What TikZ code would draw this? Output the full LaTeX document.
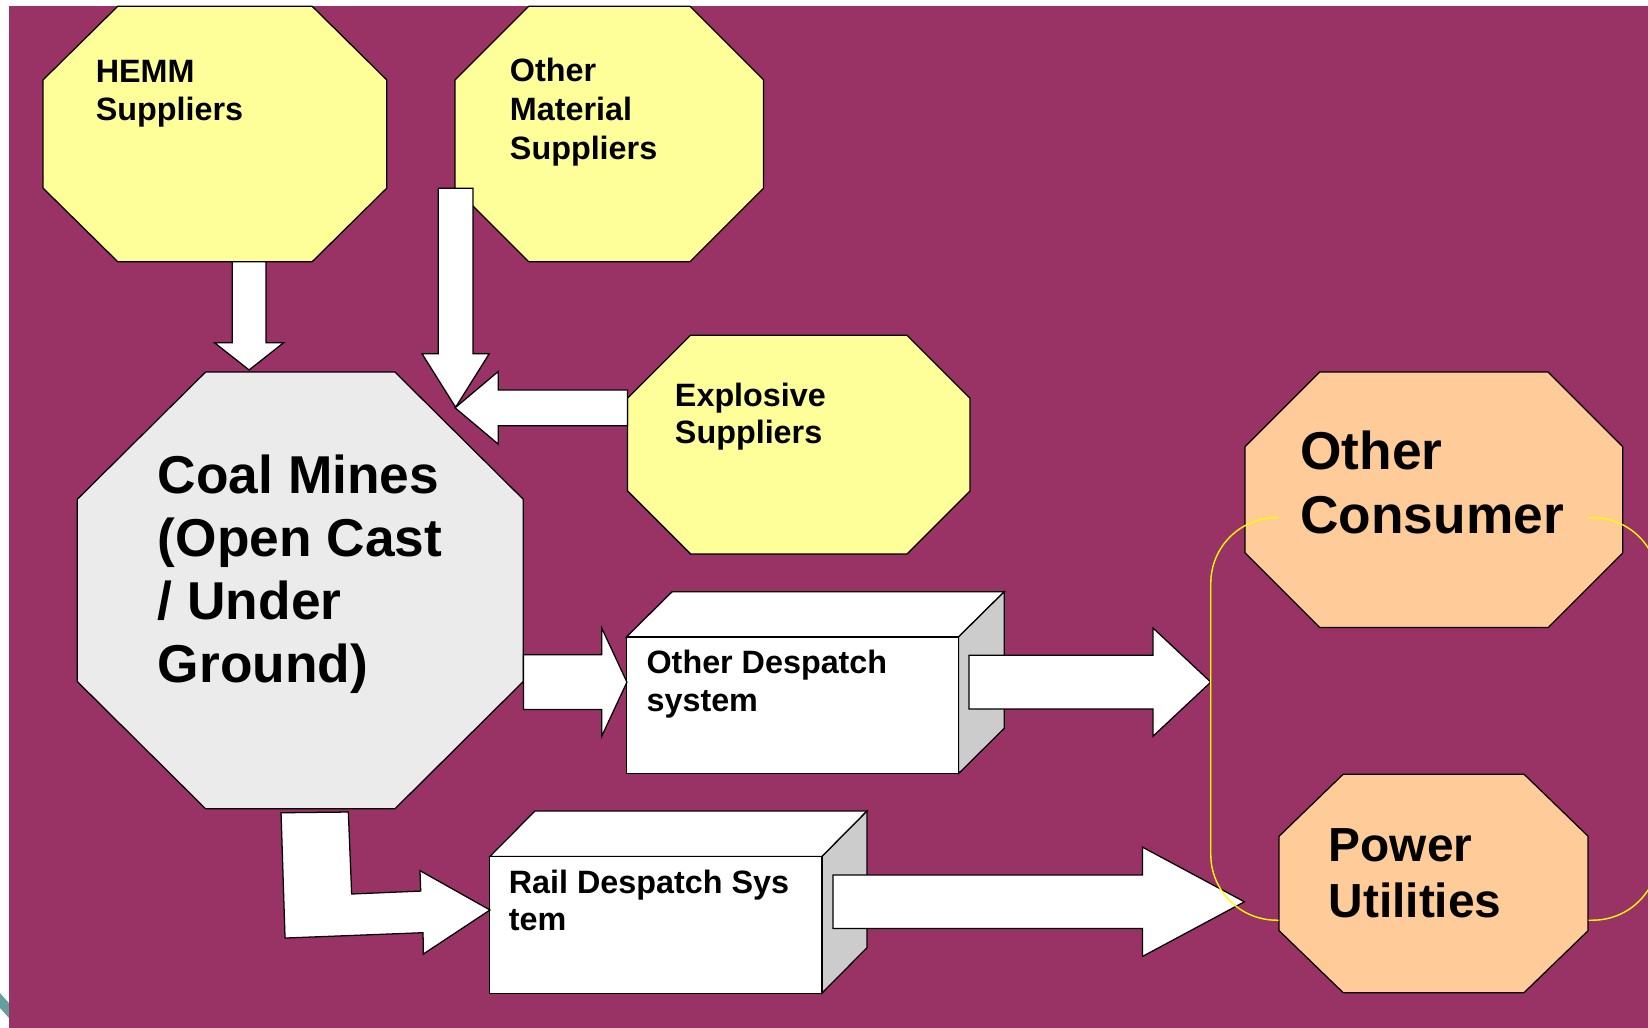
\documentclass[tikz,border=0pt]{standalone}
\usepackage{fontspec}
\setmainfont{Liberation Sans}
\usetikzlibrary{calc}
\definecolor{bgmag}{RGB}{153,51,102}
\definecolor{octyel}{RGB}{255,255,153}
\definecolor{octpeach}{RGB}{255,204,153}
\definecolor{coalgray}{RGB}{235,235,235}
\definecolor{sidegray}{RGB}{204,204,204}
\definecolor{tealmark}{RGB}{102,158,158}
\definecolor{linkyel}{RGB}{255,255,0}
\tikzset{
  outline/.style={draw=black, line width=1.2pt, line join=miter},
  yeloct/.style={outline, fill=octyel},
  peachoct/.style={outline, fill=octpeach},
  coaloct/.style={outline, fill=coalgray},
  barrow/.style={outline, fill=white},
  frontface/.style={outline, fill=white},
  sideface/.style={outline, fill=sidegray},
  txtsmall/.style={anchor=base west, inner sep=0pt, font=\bfseries\fontsize{30.75}{36}\selectfont},
  txtbig/.style={anchor=base west, inner sep=0pt, font=\bfseries\fontsize{50.7}{60}\selectfont},
  txtmid/.style={anchor=base west, inner sep=0pt, font=\bfseries\fontsize{45.5}{54}\selectfont},
  yline/.style={draw=linkyel, line width=1.3pt}
}
\newcommand\octagonshape[7]{%
  \draw[#1] ({#2+#6},#3) -- ({#4-#6},#3) -- (#4,{#3+#7}) -- (#4,{#5-#7}) --
    ({#4-#6},#5) -- ({#2+#6},#5) -- (#2,{#5-#7}) -- (#2,{#3+#7}) -- cycle;}
\newcommand\blockarrow[5]{%
  \coordinate (bah) at ($(#2)!#5!(#1)$);
  \draw[barrow] ($(#1)!#3!90:(#2)$) -- ($(bah)!#3!90:(#2)$) -- ($(bah)!#4!90:(#2)$)
    -- (#2) -- ($(bah)!#4!-90:(#2)$) -- ($(bah)!#3!-90:(#2)$) -- ($(#1)!#3!-90:(#2)$) -- cycle;}
\begin{document}
\begin{tikzpicture}[x=1pt,y=-1pt]
\useasboundingbox (0,0) rectangle (1568,978);
\clip (0,0) rectangle (1568,978);
% background
\fill[white] (0,0) rectangle (1568,978);
\fill[bgmag] (8.5,5.5) rectangle (1568,978);
\begin{scope}
  \clip (0,0) rectangle (8.5,978);
  \draw[tealmark, line width=9.5pt] (-10,941) -- (20,974);
\end{scope}

% octagons
\octagonshape{yeloct}{41}{6}{368}{249}{71}{70}
\octagonshape{yeloct}{433}{6}{726.5}{249}{70}{70}
\octagonshape{yeloct}{597}{319}{923}{527}{60}{60}
\octagonshape{coaloct}{73.6}{354}{497.8}{769.5}{122}{121}
\octagonshape{peachoct}{1184.6}{354}{1544}{597}{71}{71}
\octagonshape{peachoct}{1217}{736.6}{1511}{944.5}{61}{59}

% 3D box: other despatch
\draw[frontface] (596,606) -- (639.5,563) -- (955.5,563) -- (912,606) -- cycle;
\draw[sideface] (912,606) -- (955.5,563) -- (955.5,693) -- (912,736) -- cycle;
\draw[frontface] (596,606) rectangle (912,736);
% 3D box: rail despatch
\draw[frontface] (466,815) -- (509,771.6) -- (825,771.6) -- (782,815) -- cycle;
\draw[sideface] (782,815) -- (825,771.6) -- (825,901.6) -- (782,945) -- cycle;
\draw[frontface] (466,815) rectangle (782,945);

% connector end points
\coordinate (hemmout) at (237,249);
\coordinate (coalinA) at (237,352);
\coordinate (omout) at (433.5,179);
\coordinate (coalinB) at (433.5,387.5);
\coordinate (expout) at (597,388);
\coordinate (coalinC) at (433,388);
\coordinate (coalout) at (498,649);
\coordinate (odin) at (596.5,649);
\coordinate (odout) at (922,649);
\coordinate (consin) at (1152,649);
\coordinate (railout) at (792.5,858);
\coordinate (powin) at (1184,858);

% block arrows
\blockarrow{hemmout}{coalinA}{16pt}{33pt}{26pt}
\blockarrow{omout}{coalinB}{16.5pt}{32pt}{51pt}
\blockarrow{expout}{coalinC}{17pt}{34.5pt}{41pt}
\blockarrow{coalout}{odin}{26pt}{51.5pt}{24pt}
\blockarrow{odout}{consin}{25.5pt}{51.5pt}{55pt}
\blockarrow{railout}{powin}{25.5pt}{52pt}{97pt}
% bent arrow coal mines -> rail
\draw[barrow] (267.4,773.3) -- (331.4,772.6) -- (334.6,850.6) -- (400.3,847.8) --
  (399.6,828.4) -- (466.2,865.8) -- (402.8,907.7) -- (402.5,887.4) -- (271.2,892.5) -- cycle;

% texts
\node[txtsmall] (hemmA) at (91,78.3) {HEMM};
\node[txtsmall] (hemmB) at (91,114.2) {Suppliers};
\node[txtsmall] (omA) at (485,77.7) {Other};
\node[txtsmall] (omB) at (485,115) {Material};
\node[txtsmall] (omC) at (485,151.3) {Suppliers};
\node[txtsmall] (expA) at (642,387) {Explosive};
\node[txtsmall] (expB) at (642,422) {Suppliers};
\node[txtbig] (coalA) at (150,469.5) {Coal Mines};
\node[txtbig] (coalB) at (150,529.5) {(Open Cast};
\node[txtbig] (coalC) at (150,589.5) {/ Under};
\node[txtbig] (coalD) at (150,649.5) {Ground)};
\node[txtsmall] (odA) at (615,640.5) {Other Despatch};
\node[txtsmall] (odB) at (615,677) {system};
\node[txtsmall] (railA) at (484,850) {Rail Despatch Sys};
\node[txtsmall] (railB) at (484,885) {tem};
\node[txtbig] (ocA) at (1237,446.3) {Other};
\node[txtbig] (ocB) at (1237,507.4) {Consumer};
\node[txtmid] (puA) at (1264,820) {Power};
\node[txtmid] (puB) at (1264,872.7) {Utilities};

% yellow grouping outline (hidden behind the two consumer labels)
\begin{scope}
  \clip (0,0) rectangle (1216.5,978);
  \draw[yline, rounded corners=62.5pt] (1152,492.5) rectangle (1578,875.5);
\end{scope}
\begin{scope}
  \clip (1511.5,0) rectangle (1568,978);
  \draw[yline, rounded corners=62.5pt] (1152,492.5) rectangle (1578,875.5);
\end{scope}
\end{tikzpicture}
\end{document}
